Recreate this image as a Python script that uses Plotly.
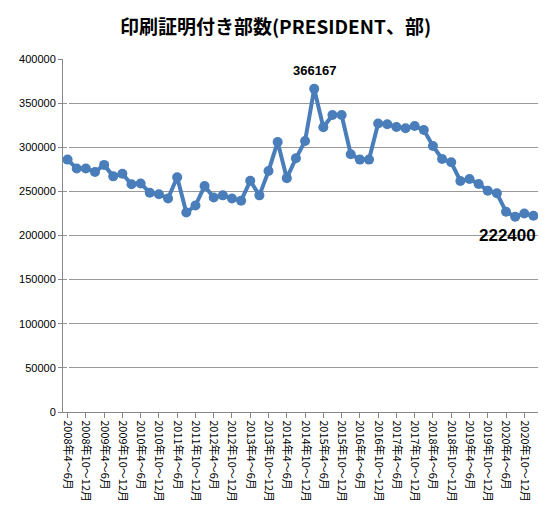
import plotly.graph_objects as go

quarters = ["1～3月", "4～6月", "7～9月", "10～12月"]
categories = []
for y in range(2008, 2022):
    for i, q in enumerate(quarters):
        if (y == 2008 and i == 0) or (y == 2021 and i > 0):
            continue
        categories.append(f"{y}年{q}")

values = [286000, 276000, 276000, 272000, 280000, 267000, 270000, 258000, 259000, 248500,
          246700, 242000, 266000, 226000, 234000, 256000, 243000, 245500, 242000, 239500,
          262000, 245500, 273000, 306000, 265000, 287500,
          307000, 366167, 322600, 336600, 336600, 292000, 286000, 286000, 327000, 326000,
          323000, 321500, 324000, 319500, 301500, 286700, 283000, 261800, 264000, 258400,
          250800, 247800, 227000, 221300, 225000, 222400]

tick_labels = categories[::2]
x_idx = list(range(len(categories)))

fig = go.Figure()
fig.add_trace(go.Scatter(x=x_idx, y=values, mode="lines+markers",
                         line=dict(color="#4A7EBB", width=4),
                         marker=dict(color="#4A7EBB", size=10)))
peak = values.index(max(values))
fig.add_annotation(x=peak, y=values[peak], text=f"<b>{values[peak]}</b>", showarrow=False,
                   yshift=18, font=dict(size=13, color="black", family="Liberation Sans"))
fig.add_annotation(x=x_idx[-1], y=values[-1], text=f"<b>{values[-1]}</b>", showarrow=False,
                   yshift=-20, xshift=-26, font=dict(size=17, color="black", family="Liberation Sans"))

fig.update_layout(
    width=535, height=510, paper_bgcolor="white", plot_bgcolor="white",
    margin=dict(l=55, r=5, t=51, b=106),
    showlegend=False,
    title=dict(text="<b>印刷証明付き部数(PRESIDENT、部)</b>", x=0.5, xanchor="center", y=0.975,
               font=dict(size=19, color="black", family="Noto Sans CJK JP")),
    font=dict(family="Liberation Sans", size=11, color="black"),
    xaxis=dict(range=[-0.5, len(categories) - 0.5], tickmode="array",
               tickvals=x_idx[::2], ticktext=tick_labels, tickangle=90,
               showline=True, linecolor="#888", ticks="outside", ticklen=5, tickcolor="#888",
               showgrid=False, tickfont=dict(size=11, family="Noto Sans CJK JP")),
    yaxis=dict(range=[0, 400000], dtick=50000, tickformat="d", showgrid=True, gridcolor="#999",
               showline=True, linecolor="#888", ticks="outside", ticklen=4, tickcolor="#888",
               tickfont=dict(size=11)),
)
fig.write_html("out.html")
